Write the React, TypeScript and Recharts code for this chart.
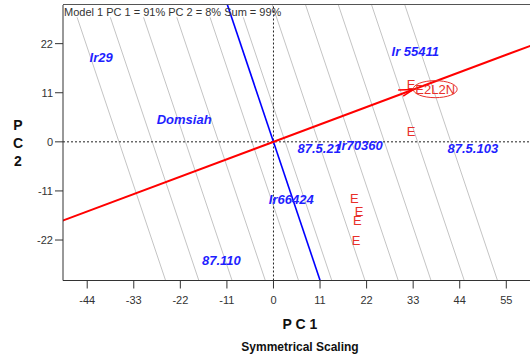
import { FC } from "react"
import { ReferenceLine, Scatter, ScatterChart, XAxis, YAxis } from "recharts"

// genotype scores on the first two principal components
const genotypeNames: string[] = ['Ir29', 'Domsiah', 'Ir 55411', '87.5.21', 'Ir70360', '87.5.103', 'Ir66424', '87.110']
const genotypePC1: number[] = [-40.7, -21.1, 33.5, 10.8, 20.5, 47.1, 4.2, -12.3]
const genotypePC2: number[] = [19.0, 5.1, 20.3, -1.4, -0.8, -1.4, -13.0, -26.7]

// environment scores
const envNames: string[] = ['E', 'E', 'E', 'E', 'E', 'E', 'E2L2N']
const envPC1: number[] = [32.5, 32.5, 19.1, 20.2, 19.8, 19.5, 38.2]
const envPC2: number[] = [12.9, 2.4, -12.8, -15.7, -17.7, -22.2, 11.8]

// average environment coordinate (arrow tip of the red axis)
const avgEnvPC1 = 33.0
const avgEnvPC2 = 11.7

// positions of the gray ranking lines along the average environment axis
const rankOffsets: number[] = [-34.4, -27.0, -19.6, -12.2, -4.8, 2.6, 10.0, 17.4, 24.7, 32.1, 39.5]

const xTicks: number[] = [-44, -33, -22, -11, 0, 11, 22, 33, 44, 55]
const yTicks: number[] = [-22, -11, 0, 11, 22]

const X_DOMAIN: [number, number] = [-49.72, 60.6]
const Y_DOMAIN: [number, number] = [-31.07, 30.66]

// the summary text sits in a blank strip on the left of the top edge
const TITLE_STRIP_Y = 27.9
const TITLE_STRIP_X = -0.4

const BLUE = '#1f1fff'
const RED = '#e8302a'

interface IPoint {
	pc1: number
	pc2: number
	name: string
}

const genotypes: IPoint[] = genotypeNames.map((name, i) => ({ name, pc1: genotypePC1[i], pc2: genotypePC2[i] }))
const environments: IPoint[] = envNames.map((name, i) => ({ name, pc1: envPC1[i], pc2: envPC2[i] }))
const avgEnv: IPoint[] = [{ name: 'AEA', pc1: avgEnvPC1, pc2: avgEnvPC2 }]

// unit vector of the average environment axis, and its perpendicular
const len = Math.hypot(avgEnvPC1, avgEnvPC2)
const ux = avgEnvPC1 / len
const uy = avgEnvPC2 / len
const FAR = 120

// line perpendicular to the axis at distance c from the origin
const perpSegment = (c: number) => [
	{ x: c * ux + FAR * uy, y: c * uy - FAR * ux },
	{ x: c * ux - FAR * uy, y: c * uy + FAR * ux },
]

// same, but stopping under the summary strip
const rankSegment = (c: number) => {
	const seg = perpSegment(c)
	const xAtStrip = (c - uy * TITLE_STRIP_Y) / ux
	if (xAtStrip < TITLE_STRIP_X) seg[1] = { x: xAtStrip, y: TITLE_STRIP_Y }
	return seg
}

const GenotypeLabel = (props: any) => (
	<text x={props.cx} y={props.cy} textAnchor="middle" dominantBaseline="central"
		fill={BLUE} fontSize={13} fontWeight="bold" fontStyle="italic" fontFamily="Liberation Sans, Arial, sans-serif">
		{props.payload.name}
	</text>
)

const EnvLabel = (props: any) => {
	const name: string = props.payload.name
	return (
		<g>
			{name.length > 1 && (
				<ellipse cx={props.cx} cy={props.cy} rx={22} ry={8.5} fill="none" stroke={RED} strokeWidth={1} />
			)}
			<text x={props.cx} y={props.cy} textAnchor="middle" dominantBaseline="central"
				fill={RED} fontSize={13} fontFamily="Liberation Sans, Arial, sans-serif">
				{name}
			</text>
		</g>
	)
}

const ArrowHead = (props: any) => (
	<g stroke="#ff0000" strokeWidth={1.5} fill="none">
		<line x1={props.cx} y1={props.cy} x2={props.cx - 15} y2={props.cy + 0.5} />
		<line x1={props.cx} y1={props.cy} x2={props.cx - 10} y2={props.cy + 6.5} />
	</g>
)

const tickStyle = { fill: '#333', fontSize: 11, fontFamily: 'Liberation Sans, Arial, sans-serif' }

const Biplot: FC = () => {
	return (
		<div style={{ position: 'absolute', left: 0, top: 0, width: 530, height: 358, background: '#fff' }}>
			<ScatterChart width={530} height={358} margin={{ top: 5, right: 0, bottom: 0, left: 0 }}>
				<XAxis type="number" dataKey="pc1" domain={X_DOMAIN} ticks={xTicks} allowDataOverflow
					height={77.5} tickSize={8} tickMargin={8} tick={tickStyle}
					axisLine={{ stroke: '#333' }} tickLine={{ stroke: '#333' }} />
				<YAxis type="number" dataKey="pc2" domain={Y_DOMAIN} ticks={yTicks} allowDataOverflow
					width={63} tickSize={8} tickMargin={2} tick={tickStyle}
					axisLine={{ stroke: '#333' }} tickLine={{ stroke: '#333' }} />
				{rankOffsets.map((c, i) => (
					<ReferenceLine key={`rank-${i}`} segment={rankSegment(c)} stroke="#c4c4c4" strokeWidth={1} ifOverflow="hidden" />
				))}
				<ReferenceLine y={0} stroke="#222" strokeDasharray="2 2" />
				<ReferenceLine x={0} stroke="#222" strokeDasharray="2 2" />
				<ReferenceLine segment={perpSegment(0)} stroke="#0000ff" strokeWidth={1.6} ifOverflow="hidden" />
				<ReferenceLine segment={[{ x: -FAR * ux, y: -FAR * uy }, { x: FAR * ux, y: FAR * uy }]}
					stroke="#ff0000" strokeWidth={2} ifOverflow="hidden" />
				<Scatter data={avgEnv} shape={ArrowHead} isAnimationActive={false} />
				<Scatter data={environments} shape={EnvLabel} isAnimationActive={false} />
				<Scatter data={genotypes} shape={GenotypeLabel} isAnimationActive={false} />
			</ScatterChart>
			<svg width={530} height={358} style={{ position: 'absolute', left: 0, top: 0, pointerEvents: 'none' }}
				fontFamily="Liberation Sans, Arial, sans-serif">
				{/* white backing for the summary, leaving a gap where the blue axis runs through */}
				<rect x={64} y={5.5} width={161} height={11.5} fill="#fff" />
				<rect x={234} y={5.5} width={38} height={11.5} fill="#fff" />
				<line x1={63} y1={4.5} x2={530} y2={4.5} stroke="#555" strokeWidth={1} />
				<text x={64} y={16} fontSize={11} fill="#333">Model 1 PC 1 = 91% PC 2 = 8% Sum = 99%</text>
				<text x={18} y={125} textAnchor="middle" dominantBaseline="central" fontSize={14} fontWeight="bold" fill="#111">P</text>
				<text x={18} y={143} textAnchor="middle" dominantBaseline="central" fontSize={14} fontWeight="bold" fill="#111">C</text>
				<text x={18} y={161} textAnchor="middle" dominantBaseline="central" fontSize={14} fontWeight="bold" fill="#111">2</text>
				<text x={300} y={324} textAnchor="middle" dominantBaseline="central" fontSize={14} fontWeight="bold" fill="#111">P C 1</text>
				<text x={300} y={347} textAnchor="middle" dominantBaseline="central" fontSize={12} fontWeight="bold" fill="#111">Symmetrical Scaling</text>
			</svg>
		</div>
	)
}

export default function App() {
	return <Biplot />
}
